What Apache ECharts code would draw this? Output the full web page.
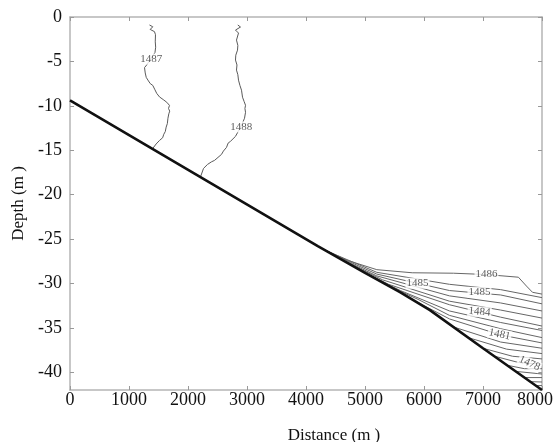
<!DOCTYPE html>
<html><head><meta charset="utf-8">
<script src="https://cdn.jsdelivr.net/npm/echarts@6/dist/echarts.min.js"></script>
<style>html,body{margin:0;padding:0;background:#fff}#c{width:554px;height:442px}</style>
</head><body><div id="c"></div>
<script>
// Sea-floor profile: distance (m) and depth (m)
const bedDistance = [0, 4200, 5000, 5600, 6100, 7000, 8000];
const bedDepth = [-9.4, -25.8, -28.8, -31.0, -33.0, -37.3, -42.0];

// Sound-speed isolines on the shelf, as [distance, depth] pairs
const iso1487 = [[1347,-0.9],[1403,-1.1],[1359,-1.4],[1432,-1.65],[1449,-2.0],[1445,-2.8],[1452,-3.4],[1440,-4.0],[1300,-5.4],[1263,-5.7],[1275,-6.3],[1292,-6.8],[1330,-7.2],[1360,-7.5],[1403,-7.7],[1440,-8.2],[1470,-8.6],[1517,-9.0],[1580,-9.3],[1640,-9.6],[1686,-9.95],[1670,-10.3],[1690,-10.6],[1675,-10.9],[1660,-11.4],[1650,-12.0],[1630,-12.4],[1615,-12.9],[1590,-13.2],[1570,-13.6],[1517,-13.9],[1460,-14.3],[1403,-14.8]];
const iso1488 = [[2844,-0.9],[2890,-1.13],[2805,-1.47],[2856,-1.81],[2822,-2.6],[2845,-3.2],[2839,-3.73],[2810,-4.3],[2805,-4.85],[2830,-5.4],[2822,-5.98],[2845,-6.5],[2856,-7.11],[2880,-7.7],[2907,-8.24],[2924,-9.03],[2950,-9.5],[2975,-9.94],[2965,-10.3],[2975,-10.73],[2958,-11.4],[2920,-12.0],[2890,-12.42],[2850,-12.9],[2805,-13.44],[2720,-14.0],[2680,-14.2],[2653,-14.68],[2600,-15.1],[2568,-15.47],[2449,-16.15],[2400,-16.3],[2331,-16.6],[2263,-17.05],[2212,-18.0]];

// Isolines in the cold bottom wedge near the shelf break
const wedge01 = [[4250,-26.0],[4700,-27.4],[5200,-28.45],[5800,-28.8],[6500,-28.85],[7059,-29.0],[7600,-29.3],[7737,-30.3],[7839,-31.0],[8000,-31.2]];
const wedge02 = [[4320,-26.25],[5200,-28.75],[6432,-30.1],[7300,-30.7],[8000,-31.6]];
const wedge03 = [[4400,-26.55],[5200,-28.95],[6432,-30.8],[7300,-31.3],[8000,-32.3]];
const wedge04 = [[4500,-26.93],[5200,-29.15],[6432,-31.4],[7300,-32.2],[8000,-33.1]];
const wedge05 = [[4650,-27.49],[5300,-29.6],[6432,-32.0],[7300,-33.0],[8000,-33.9]];
const wedge06 = [[4850,-28.24],[5400,-30.1],[6432,-32.4],[7300,-33.8],[8000,-34.8]];
const wedge07 = [[5100,-29.17],[5600,-30.8],[6432,-33.1],[7300,-34.4],[8000,-35.3]];
const wedge08 = [[5400,-30.27],[5900,-31.8],[6432,-33.6],[7300,-35.1],[8000,-36.1]];
const wedge09 = [[5800,-31.8],[6432,-34.0],[7300,-35.8],[8000,-36.7]];
const wedge10 = [[6500,-34.9],[7300,-36.6],[8000,-37.3]];
const wedge11 = [[6750,-36.1],[7400,-37.4],[8000,-37.9]];
const wedge12 = [[7000,-37.3],[7500,-38.2],[8000,-38.5]];
const wedge13 = [[7200,-38.2],[7600,-38.9],[8000,-39.1]];
const wedge14 = [[7400,-39.2],[7700,-39.6],[8000,-39.6]];
const wedge15 = [[7550,-39.9],[8000,-40.2]];
const wedge16 = [[7700,-40.6],[8000,-40.6]];
const wedge17 = [[7800,-41.06],[8000,-41.1]];
const wedge18 = [[7900,-41.5],[8000,-41.5]];

// Isoline labels
const labelText = ['1487', '1488', '1486', '1485', '1485', '1484', '1481', '1478'];
const labelDistance = [1376, 2902, 7059, 5890, 6940, 6940, 7280, 7788];
const labelDepth = [-4.74, -12.38, -29.0, -29.98, -31.0, -33.2, -35.75, -39.0];

// Tick values
const xTicks = [0, 1000, 2000, 3000, 4000, 5000, 6000, 7000, 8000];
const yTicks = [-40, -35, -30, -25, -20, -15, -10, -5, 0];

const labelRotate = [0, 0, 0, 0, 0, -5, -12, -25];
const serif = 'Liberation Serif';
const axisGrey = '#b5b5b5';

const wedgeLines = [wedge01, wedge02, wedge03, wedge04, wedge05, wedge06, wedge07, wedge08, wedge09,
  wedge10, wedge11, wedge12, wedge13, wedge14, wedge15, wedge16, wedge17, wedge18];

const series = [];
[iso1487, iso1488].forEach(pts => series.push({
  type: 'line', data: pts, symbol: 'none', silent: true, z: 3,
  lineStyle: { color: '#5a5a5a', width: 1 }
}));
wedgeLines.forEach(pts => series.push({
  type: 'line', data: pts, symbol: 'none', silent: true, z: 3,
  lineStyle: { color: '#666', width: 1 }
}));
series.push({
  type: 'line', data: bedDistance.map((d, i) => [d, bedDepth[i]]),
  symbol: 'none', silent: true, z: 5,
  lineStyle: { color: '#111', width: 2.6 }
});
series.push({
  type: 'scatter', symbolSize: 0, silent: true, z: 6,
  data: labelText.map((t, i) => ({
    name: t, value: [labelDistance[i], labelDepth[i]],
    label: { rotate: labelRotate[i] }
  })),
  label: {
    show: true, position: 'inside', formatter: '{b}',
    fontFamily: serif, fontSize: 11, color: '#333',
    backgroundColor: '#fff', padding: [0, 1]
  }
});

const plain = v => String(v);
// the last distance label sits pulled in from the right edge
const xLabel = v => (v === xTicks[xTicks.length - 1] ? '{end|' + v + '}' : String(v));

const baseX = {
  type: 'value', min: 0, max: 8000, interval: 1000,
  splitLine: { show: false },
  axisLine: { show: true, onZero: false, lineStyle: { color: axisGrey, width: 1.5 } },
  axisTick: { show: true, inside: true, length: 4, lineStyle: { color: '#999' } }
};
const baseY = {
  type: 'value', min: -42, max: 0,
  splitLine: { show: false },
  axisLine: { show: true, onZero: false, lineStyle: { color: axisGrey, width: 1.5 } },
  axisTick: { show: true, inside: true, length: 4, customValues: yTicks, lineStyle: { color: '#999' } }
};

const chart = echarts.init(document.getElementById('c'), null, { renderer: 'canvas' });
chart.setOption({
  animation: false,
  backgroundColor: '#fff',
  grid: { left: 70, right: 12, top: 17, bottom: 52, containLabel: false, outerBoundsMode: 'none' },
  xAxis: [
    Object.assign({}, baseX, {
      position: 'bottom',
      axisLabel: {
        fontFamily: serif, fontSize: 18, color: '#111', margin: 1, customValues: xTicks, formatter: xLabel,
        rich: { end: { fontFamily: serif, fontSize: 18, color: '#111', padding: [0, 14, 0, 0] } }
      },
      name: 'Distance (m )', nameLocation: 'middle', nameGap: 37,
      nameTextStyle: { fontFamily: serif, fontSize: 17, color: '#111', padding: [0, 0, 0, 56] }
    }),
    Object.assign({}, baseX, { position: 'top', axisLabel: { show: false } })
  ],
  yAxis: [
    Object.assign({}, baseY, {
      position: 'left',
      axisLabel: { fontFamily: serif, fontSize: 18, color: '#111', margin: 8, customValues: yTicks, formatter: plain },
      name: 'Depth (m )', nameLocation: 'middle', nameGap: 41, nameRotate: 90,
      nameTextStyle: { fontFamily: serif, fontSize: 17, color: '#111' }
    }),
    Object.assign({}, baseY, { position: 'right', axisLabel: { show: false } })
  ],
  series: series
});
</script>
</body></html>
